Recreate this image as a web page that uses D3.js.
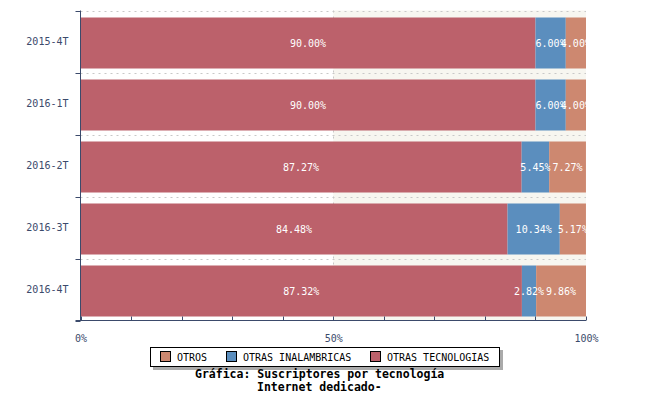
<!DOCTYPE html>
<html><head><meta charset="utf-8">
<script src="https://cdn.jsdelivr.net/npm/d3@7"></script>
<style>body{margin:0;background:#fff}svg{display:block}</style>
</head><body>
<svg id="c" width="650" height="400"></svg>
<script>
const categories = ["2015-4T","2016-1T","2016-2T","2016-3T","2016-4T"];
const seriesNames = ["OTRAS TECNOLOGIAS","OTRAS INALAMBRICAS","OTROS"];
const otrasTecnologias = [90.00, 90.00, 87.27, 84.48, 87.32];
const otrasInalambricas = [6.00, 6.00, 5.45, 10.34, 2.82];
const otros = [4.00, 4.00, 7.27, 5.17, 9.86];
const xTicks = [0, 50, 100];
const minorTicks = [0,10,20,30,40,50,60,70,80,90,100];
const legendOrder = ["OTROS","OTRAS INALAMBRICAS","OTRAS TECNOLOGIAS"];
const colors = {"OTRAS TECNOLOGIAS":"#bc616b","OTRAS INALAMBRICAS":"#5b8ebe","OTROS":"#cd8870"};
const titleLines = ["Gráfica: Suscriptores por tecnología","Internet dedicado-"];

const svg = d3.select("#c");
const L=80.5, R=586, T=10.5, B=320.5;
const x = d3.scaleLinear().domain([0,100]).range([L,R]);
const y = d3.scaleBand().domain(categories).range([T,B]);
const axisColor = "#3b4a6b";
const mono = "'DejaVu Sans Mono', monospace";

// background stripes
svg.append("rect").attr("x",x(50)).attr("y",T).attr("width",x(100)-x(50)).attr("height",B-T).attr("fill","#f7f6f0");
// dashed grid
const bandEdges = categories.map(c=>y(c));
svg.selectAll(".hg").data(bandEdges).join("line")
  .attr("x1",L).attr("x2",R).attr("y1",d=>Math.round(d)+0.5).attr("y2",d=>Math.round(d)+0.5)
  .attr("stroke","#c8c8c8").attr("stroke-dasharray","2,4");
svg.append("line").attr("x1",Math.round(x(50))+0.5).attr("x2",Math.round(x(50))+0.5).attr("y1",T).attr("y2",B)
  .attr("stroke","#c8c8c8").attr("stroke-dasharray","2,4");

const rows = categories.map((c,i)=>({cat:c, "OTRAS TECNOLOGIAS":otrasTecnologias[i], "OTRAS INALAMBRICAS":otrasInalambricas[i], "OTROS":otros[i]}));
const stack = d3.stack().keys(seriesNames)(rows);

svg.append("defs").append("clipPath").attr("id","pc").append("rect").attr("x",L).attr("y",T).attr("width",R-L).attr("height",B-T);

const barTop = 7, barH = 51;
const g = svg.append("g").attr("clip-path","url(#pc)");
stack.forEach(s=>{
  g.selectAll(null).data(s).join("rect")
    .attr("x",d=>x(d[0])).attr("width",d=>x(d[1])-x(d[0]))
    .attr("y",d=>Math.round(y(d.data.cat))+barTop-0.5).attr("height",barH)
    .attr("fill",colors[s.key]);
});
stack.forEach(s=>{
  g.selectAll(null).data(s).join("text")
    .attr("x",d=>(x(d[0])+x(d[1]))/2).attr("y",d=>Math.round(y(d.data.cat))+barTop+barH/2+3)
    .attr("text-anchor","middle").attr("fill","#fff").attr("font-family",mono).attr("font-size","10px")
    .text(d=>(d[1]-d[0]).toFixed(2)+"%");
});

// axes
const yAxis = d3.axisLeft(y).tickSize(0).tickPadding(12);
const ya = svg.append("g").attr("transform",`translate(${L},0)`).call(yAxis);
ya.select(".domain").attr("stroke",axisColor).attr("d",`M0,${T}V${B}`);
ya.selectAll("text").attr("fill",axisColor).attr("font-family",mono).attr("font-size","10px");
svg.selectAll(".yt").data([...bandEdges, B]).join("line")
  .attr("x1",L-5).attr("x2",L).attr("y1",d=>Math.round(d)+0.5).attr("y2",d=>Math.round(d)+0.5).attr("stroke",axisColor);

const xAxis = d3.axisBottom(x).tickValues(xTicks).tickSize(0).tickPadding(14).tickFormat(d=>d+"%");
const xa = svg.append("g").attr("transform",`translate(0,${B})`).call(xAxis);
xa.select(".domain").attr("stroke",axisColor).attr("d",`M${L-5},0H${R}`);
xa.selectAll("text").attr("fill",axisColor).attr("font-family",mono).attr("font-size","10px");
svg.selectAll(".xt").data(minorTicks).join("line")
  .attr("x1",d=>Math.round(x(d))+0.5).attr("x2",d=>Math.round(x(d))+0.5).attr("y1",B-4).attr("y2",B).attr("stroke",axisColor);

// legend
const lg = svg.append("g");
lg.append("rect").attr("x",153).attr("y",350).attr("width",350).attr("height",20).attr("fill","#aaa");
lg.append("rect").attr("x",150.5).attr("y",347.5).attr("width",349).attr("height",19).attr("fill","#fff").attr("stroke","#000");
const lx = [160, 226, 370];
legendOrder.forEach((k,i)=>{
  lg.append("rect").attr("x",lx[i]+0.5).attr("y",351.5).attr("width",10).attr("height",10).attr("fill",colors[k]).attr("stroke","#000");
  lg.append("text").attr("x",lx[i]+17).attr("y",361).attr("font-family",mono).attr("font-size","10px").attr("fill","#000").text(k);
});
// title
svg.selectAll(".tt").data(titleLines).join("text")
  .attr("x",[320,320]).attr("x",(d,i)=>i===0?195:257).attr("y",(d,i)=>378+i*13)
  .attr("font-family",mono).attr("font-weight","bold").attr("font-size","11.5px").attr("fill","#000").text(d=>d);
</script>
</body></html>
